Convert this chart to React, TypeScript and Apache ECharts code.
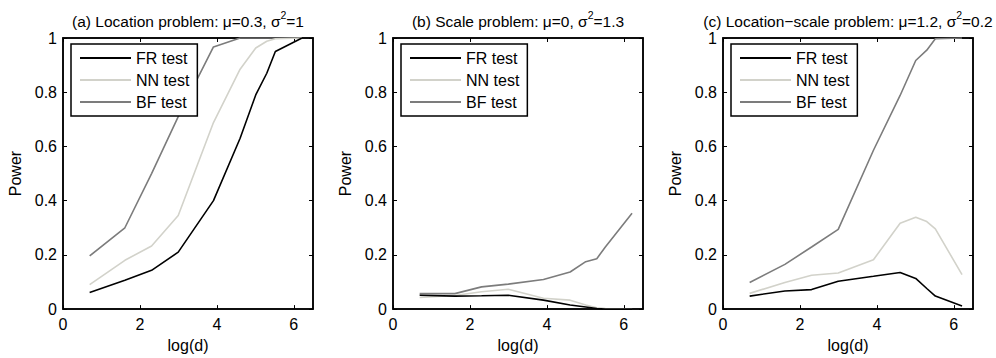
import React, { useEffect, useRef } from "react";
import * as echarts from "echarts";

const logD = [0.693, 1.609, 2.303, 2.996, 3.912, 4.605, 5.011, 5.298, 5.521, 6.215];
const seriesNames = ["FR test", "NN test", "BF test"];
const seriesColors = ["#000000", "#d2d2ca", "#7c7c7c"];

const panelTitles = [
  { pre: "(a) Location problem: μ=0.3, σ", post: "=1" },
  { pre: "(b) Scale problem: μ=0, σ", post: "=1.3" },
  { pre: "(c) Location−scale problem: μ=1.2, σ", post: "=0.2" },
];

// Panel (a) Location problem
const locFR = [0.061, 0.106, 0.143, 0.21, 0.4, 0.63, 0.79, 0.87, 0.95, 1.0];
const locNN = [0.09, 0.18, 0.233, 0.345, 0.688, 0.885, 0.963, 0.988, 0.997, 1.0];
const locBF = [0.196, 0.3, 0.5, 0.71, 0.967, 1.0, 1.0, 1.0, 1.0, 1.0];

// Panel (b) Scale problem
const scaFR = [0.051, 0.048, 0.049, 0.051, 0.033, 0.015, 0.008, 0.002, 0.0, 0.0];
const scaNN = [0.043, 0.05, 0.064, 0.073, 0.04, 0.033, 0.015, 0.005, 0.002, 0.0];
const scaBF = [0.057, 0.057, 0.082, 0.092, 0.109, 0.137, 0.175, 0.186, 0.229, 0.354];

// Panel (c) Location-scale problem
const lsFR = [0.048, 0.067, 0.072, 0.103, 0.121, 0.135, 0.113, 0.076, 0.048, 0.011];
const lsNN = [0.058, 0.098, 0.125, 0.133, 0.182, 0.317, 0.339, 0.323, 0.296, 0.127];
const lsBF = [0.098, 0.165, 0.229, 0.294, 0.586, 0.788, 0.917, 0.955, 0.997, 1.0];

const panels = [
  [locFR, locNN, locBF],
  [scaFR, scaNN, scaBF],
  [lsFR, lsNN, lsBF],
];

const xTicks = [0, 2, 4, 6];

const FONT = "'Liberation Sans', Arial, Helvetica, sans-serif";

export default function App() {
  const ref = useRef<HTMLDivElement>(null);
  useEffect(() => {
    if (!ref.current) return;
    const chart = echarts.init(ref.current, undefined, { renderer: "svg" });
    const left0 = 63;
    const step = 330;
    const top = 38;
    const w = 250;
    const h = 273;

    const grids: any[] = [];
    const xAxes: any[] = [];
    const yAxes: any[] = [];
    const series: any[] = [];
    const legends: any[] = [];
    const graphics: any[] = [];

    const axisLine = { show: true, onZero: false, lineStyle: { color: "#000", width: 1.5 } };
    const tick = { show: true, inside: true, length: 4, lineStyle: { color: "#000", width: 1 } };

    for (let i = 0; i < 3; i++) {
      const left = left0 + step * i;
      grids.push({
        left,
        top,
        width: w,
        height: h,
        containLabel: false,
        show: true,
        borderColor: "#000",
        borderWidth: 1.5,
        backgroundColor: "transparent",
      });
      xAxes.push({
        type: "value",
        gridIndex: i,
        min: 0,
        max: 6.5,
        interval: 2,
        position: "bottom",
        axisLine,
        axisTick: { ...tick, customValues: xTicks },
        splitLine: { show: false },
        axisLabel: {
          color: "#000",
          fontSize: 16,
          fontFamily: FONT,
          margin: 7,
          customValues: xTicks,
          formatter: (v: number) => String(v),
        },
        name: "log(d)",
        nameLocation: "middle",
        nameGap: 21,
        nameTextStyle: { color: "#000", fontSize: 16, fontFamily: FONT },
      });
      yAxes.push({
        type: "value",
        gridIndex: i,
        min: 0,
        max: 1,
        interval: 0.2,
        position: "left",
        axisLine,
        axisTick: tick,
        splitLine: { show: false },
        axisLabel: {
          color: "#000",
          fontSize: 16,
          fontFamily: FONT,
          margin: 6,
          formatter: (v: number) => String(Math.round(v * 10) / 10),
        },
        name: "Power",
        nameLocation: "middle",
        nameGap: 40,
        nameTextStyle: { color: "#000", fontSize: 16, fontFamily: FONT },
      });
      legends.push({
        data: seriesNames.map((n, k) => ({
          name: n,
          icon: "rect",
          itemStyle: { color: seriesColors[k], borderWidth: 0 },
        })),
        orient: "vertical",
        left: left + 8,
        top: top + 6,
        backgroundColor: "#fff",
        borderColor: "#000",
        borderWidth: 1.5,
        padding: [5, 8, 5, 9],
        itemGap: 4,
        itemWidth: 51,
        itemHeight: 2,
        selectedMode: false,
        textStyle: { color: "#000", fontSize: 16, fontFamily: FONT, lineHeight: 18 },
      });
      const t = panelTitles[i];
      graphics.push({
        type: "text",
        x: left + w / 2,
        y: 9,
        style: {
          text: `{n|${t.pre}}{s|2}{n|${t.post}}`,
          align: "center",
          verticalAlign: "top",
          rich: {
            n: { fontSize: 15.5, fontFamily: FONT, fill: "#000", lineHeight: 20, verticalAlign: "bottom" },
            s: { fontSize: 10.5, fontFamily: FONT, fill: "#000", lineHeight: 20, verticalAlign: "top" },
          },
        },
      });
      panels[i].forEach((vals, k) => {
        series.push({
          type: "line",
          name: seriesNames[k],
          xAxisIndex: i,
          yAxisIndex: i,
          data: logD.map((x, j) => [x, vals[j]]),
          symbol: "none",
          showSymbol: false,
          clip: true,
          z: k === 0 ? 4 : k === 1 ? 3 : 2,
          lineStyle: { color: seriesColors[k], width: 1.6 },
          itemStyle: { color: seriesColors[k] },
        });
      });
    }
    for (let i = 0; i < 3; i++) {
      xAxes.push({
        type: "value",
        gridIndex: i,
        min: 0,
        max: 6.5,
        interval: 2,
        position: "top",
        axisLine,
        axisTick: { ...tick, customValues: xTicks },
        axisLabel: { show: false },
        splitLine: { show: false },
      });
      yAxes.push({
        type: "value",
        gridIndex: i,
        min: 0,
        max: 1,
        interval: 0.2,
        position: "right",
        axisLine,
        axisTick: tick,
        axisLabel: { show: false },
        splitLine: { show: false },
      });
      series.push({
        type: "line",
        name: "_frame" + i,
        xAxisIndex: 3 + i,
        yAxisIndex: 3 + i,
        data: [],
        symbol: "none",
        silent: true,
      });
    }

    chart.setOption({
      animation: false,
      backgroundColor: "#fff",
      grid: grids,
      xAxis: xAxes,
      yAxis: yAxes,
      legend: legends,
      series,
      graphic: graphics,
    });
    return () => chart.dispose();
  }, []);
  return (
    <div
      ref={ref}
      style={{ position: "absolute", left: 0, top: 0, width: 996, height: 358 }}
    />
  );
}
